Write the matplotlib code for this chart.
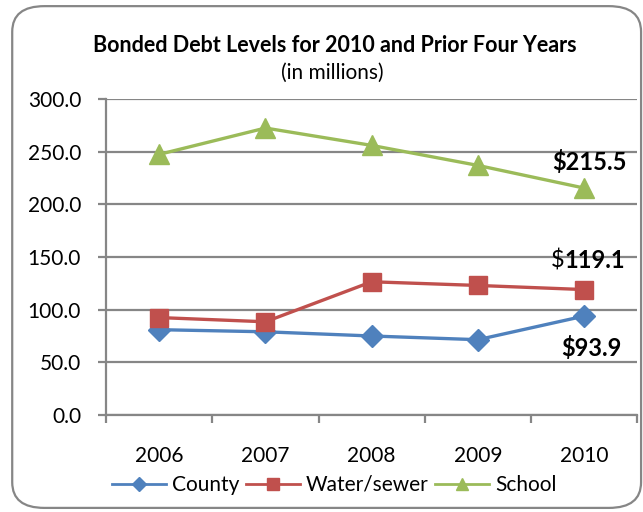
import matplotlib.pyplot as plt
from matplotlib.patches import FancyBboxPatch
from matplotlib.lines import Line2D

plt.rcParams["font.family"] = ["Lato", "DejaVu Sans"]

years = ["2006", "2007", "2008", "2009", "2010"]
county = [81.0, 79.0, 75.0, 71.5, 93.9]
water_sewer = [92.5, 88.5, 126.5, 123.0, 119.1]
school = [247.5, 272.5, 256.0, 237.0, 215.5]

yticks = [0, 50, 100, 150, 200, 250, 300]

BLUE = "#4F81BD"
RED = "#C0504D"
GREEN = "#9BBB59"
GRID = "#868686"

fig = plt.figure(figsize=(6.43, 5.12), dpi=100)

# rounded chart frame
frame = FancyBboxPatch((0.019, 0.008), 0.978, 0.98,
                       boxstyle="round,pad=0,rounding_size=0.05",
                       transform=fig.transFigure, facecolor="white",
                       edgecolor=GRID, linewidth=1.6, zorder=-1)
fig.patches.append(frame)

ax = fig.add_axes([0.165, 0.1895, 0.826, 0.617])
ax.set_facecolor("none")

x = list(range(len(years)))
ax.plot(x, county, color=BLUE, lw=2.4, marker="D", ms=11, zorder=3)
ax.plot(x, water_sewer, color=RED, lw=2.4, marker="s", ms=13, zorder=3)
ax.plot(x, school, color=GREEN, lw=2.4, marker="^", ms=14, zorder=3)

ax.set_xlim(-0.5, len(years) - 0.5)
ax.set_ylim(0, 300)
ax.set_yticks(yticks)
ax.set_yticklabels([f"{v:.1f}" for v in yticks])
ax.set_xticks([i - 0.5 for i in range(len(years) + 1)], minor=False)
ax.set_xticklabels([])
ax.set_xticks(x, minor=True)
ax.set_xticklabels(years, minor=True)
ax.tick_params(axis="x", which="minor", length=0, pad=22, labelsize=15)
ax.tick_params(axis="x", which="major", length=6, width=1.6, color=GRID, direction="out")
ax.tick_params(axis="y", length=6, width=1.6, color=GRID, labelsize=15, pad=12)

ax.grid(axis="y", color=GRID, linewidth=1.6)
ax.set_axisbelow(True)
for side in ["top", "right"]:
    ax.spines[side].set_visible(False)
for side in ["left", "bottom"]:
    ax.spines[side].set_color(GRID)
    ax.spines[side].set_linewidth(1.6)

# value labels for 2010
ax.text(4.05, school[4] + 25, r"\$" + f"{school[4]:.1f}", ha="center", va="center",
        fontsize=17, fontweight="bold")
ax.text(3.82, water_sewer[4] + 28, r"\$", ha="right", va="center", fontsize=17)
ax.text(3.82, water_sewer[4] + 28, f"{water_sewer[4]:.1f}", ha="left", va="center",
        fontsize=17, fontweight="bold")
ax.text(4.07, county[4] - 30, r"\$" + f"{county[4]:.1f}", ha="center", va="center",
        fontsize=17, fontweight="bold")

fig.text(0.52, 0.912, "Bonded Debt Levels for 2010 and Prior Four Years",
         ha="center", va="center", fontsize=15.5, fontweight="bold")
fig.text(0.517, 0.858, "(in millions)", ha="center", va="center", fontsize=15)

handles = [
    Line2D([], [], color=BLUE, lw=2, marker="D", ms=7),
    Line2D([], [], color=RED, lw=2, marker="s", ms=8),
    Line2D([], [], color=GREEN, lw=2, marker="^", ms=8),
]
fig.legend(handles, ["County", "Water/sewer", "School"], loc="center",
           bbox_to_anchor=(0.52, 0.053), ncol=3, frameon=False, fontsize=15,
           handlelength=2.6, handletextpad=0.3, columnspacing=0.3)

fig.savefig("out.png", dpi=100)
